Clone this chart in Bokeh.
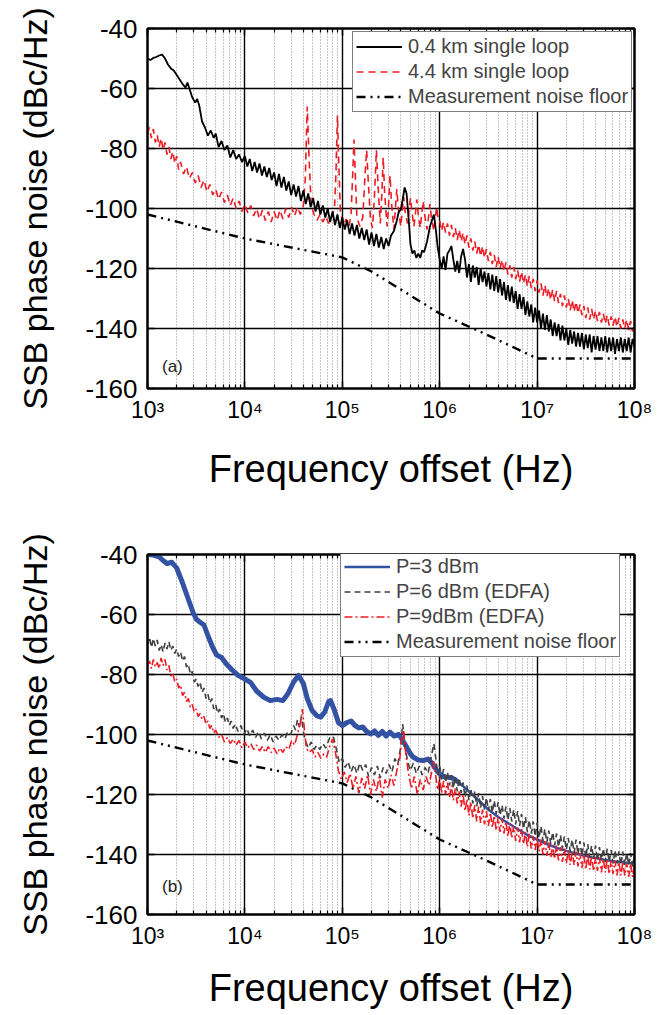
import math
from bokeh.plotting import figure
from bokeh.layouts import column
from bokeh.models import (Range1d, FixedTicker, CustomJSTickFormatter, LogAxis,
                          LinearAxis, Legend, LegendItem, Label)
from bokeh.embed import file_html
from bokeh.resources import INLINE

FONT = "Liberation Sans"

# ---------------- axis ticks ----------------
X_TICKS = [1e3, 1e4, 1e5, 1e6, 1e7, 1e8]
X_MINOR = [k * 10 ** n for n in range(3, 8) for k in range(2, 10)]
Y_TICKS = [-160, -140, -120, -100, -80, -60, -40]

# ---------------- data (log10 frequency, dBc/Hz) ----------------
# shared measurement noise floor
NOISE = [(3.0, -102), (4.0, -110), (5.0, -116.3), (5.3, -121), (6.0, -135),
         (6.48, -142), (7.0, -150), (8.0, -150)]

# panel (a): 0.4 km single loop
A_SHORT = [
    (3.0, -50), (3.03, -50.5), (3.06, -49.8), (3.09, -49.5), (3.12, -49), (3.15, -48.7),
    (3.18, -50), (3.21, -52), (3.24, -53.3), (3.27, -54), (3.3, -55.5), (3.33, -57),
    (3.36, -58.5), (3.39, -59.7), (3.41, -58), (3.43, -60), (3.46, -63), (3.49, -64.7),
    (3.51, -63.5), (3.53, -65.5), (3.56, -71), (3.59, -73), (3.62, -75.7), (3.65, -74),
    (3.68, -76.5), (3.7, -75), (3.73, -79.5), (3.76, -77.5), (3.79, -80.5), (3.82, -79),
    (3.85, -83), (3.88, -80.5), (3.91, -83.5), (3.94, -82), (3.97, -84.5),
    (4.0, -82.5), (4.025, -86), (4.05, -83.5), (4.075, -87.5), (4.1, -84.5), (4.125, -88),
    (4.15, -85), (4.175, -89), (4.2, -86), (4.225, -89.5), (4.25, -86.5), (4.275, -90.5),
    (4.3, -88), (4.325, -92.5), (4.35, -88.5), (4.375, -93), (4.4, -89.5), (4.425, -94),
    (4.45, -91), (4.475, -95.5), (4.5, -92), (4.525, -96), (4.55, -92.5), (4.575, -97.5),
    (4.6, -94), (4.625, -98.5), (4.65, -95), (4.675, -99.5), (4.7, -96.5), (4.725, -101),
    (4.75, -97.5), (4.775, -102), (4.8, -99), (4.825, -103), (4.85, -100), (4.875, -104.5),
    (4.9, -101), (4.925, -105.5), (4.95, -102), (4.975, -106.5), (5.0, -103), (5.025, -107),
    (5.05, -104), (5.075, -108.5), (5.1, -105), (5.125, -109), (5.15, -105.5), (5.175, -110),
    (5.2, -106.5), (5.225, -110.5), (5.25, -107), (5.275, -112), (5.3, -108), (5.325, -112.5),
    (5.35, -108.5), (5.375, -113), (5.4, -109.5), (5.425, -113.5), (5.45, -110), (5.475, -112.5),
    (5.5, -109), (5.53, -107.5), (5.56, -104), (5.58, -101), (5.6, -100.5),
    (5.62, -97), (5.64, -93), (5.66, -95), (5.68, -103), (5.7, -112), (5.72, -115),
    (5.74, -114), (5.76, -116.5), (5.78, -115), (5.8, -116.5), (5.82, -114), (5.84, -114.5),
    (5.87, -111), (5.9, -106), (5.92, -104), (5.94, -102), (5.96, -107), (5.98, -113),
    (6.0, -117), (6.02, -120), (6.04, -116), (6.06, -120.5), (6.08, -115), (6.1, -114),
    (6.12, -112.5), (6.14, -117), (6.16, -121), (6.18, -117.5), (6.2, -121.5), (6.22, -116),
    (6.24, -113.5), (6.26, -117), (6.28, -123), (6.3, -118.5), (6.32, -124.5), (6.34, -119),
    (6.36, -123), (6.38, -119.5), (6.4, -125.5), (6.42, -120), (6.44, -124.5), (6.46, -121),
    (6.48, -126), (6.5, -121.5), (6.52, -127), (6.54, -122), (6.56, -127.5), (6.58, -122.5),
    (6.6, -128), (6.62, -123.5), (6.64, -129), (6.66, -124.5), (6.68, -130.5), (6.7, -125.5),
    (6.72, -131), (6.74, -126), (6.76, -131.5), (6.78, -127.5), (6.8, -133.5), (6.82, -128.5),
    (6.84, -133.5), (6.86, -129.5), (6.88, -135.5), (6.9, -131), (6.92, -136), (6.94, -132),
    (6.96, -138), (6.98, -133), (7.0, -138), (7.02, -134), (7.04, -140), (7.06, -135),
    (7.08, -140.5), (7.1, -135.5), (7.12, -141), (7.14, -137), (7.16, -142.5), (7.18, -138),
    (7.2, -142.5), (7.22, -138.5), (7.24, -144), (7.26, -139), (7.28, -144), (7.3, -140),
    (7.32, -145.5), (7.34, -140.5), (7.36, -145), (7.38, -141), (7.4, -146), (7.42, -141.5),
    (7.44, -146), (7.46, -141.5), (7.48, -147), (7.5, -142), (7.52, -146.5), (7.54, -142),
    (7.56, -148), (7.58, -142.5), (7.6, -147), (7.62, -142.5), (7.64, -147.5), (7.66, -143),
    (7.68, -147.5), (7.7, -142.5), (7.72, -148), (7.74, -143), (7.76, -147.5), (7.78, -143),
    (7.8, -148.5), (7.82, -143.5), (7.84, -147.5), (7.86, -143), (7.88, -148), (7.9, -143.5),
    (7.92, -147.5), (7.94, -143), (7.96, -148), (7.98, -143.5), (8.0, -146)]

# panel (a): 4.4 km single loop
A_LONG = [
    (3.0, -75), (3.02, -73), (3.04, -76.5), (3.06, -73.5), (3.08, -78), (3.1, -75.5),
    (3.12, -79.5), (3.14, -76.5), (3.16, -80.5), (3.18, -78), (3.2, -82), (3.22, -79.5),
    (3.24, -83.5), (3.26, -81), (3.28, -85), (3.3, -82.5), (3.32, -87), (3.34, -84.5),
    (3.37, -88.5), (3.4, -86), (3.43, -90), (3.46, -88), (3.49, -91.5), (3.52, -89),
    (3.55, -93), (3.58, -90.5), (3.61, -94.5), (3.64, -92), (3.67, -95.5), (3.7, -93.5),
    (3.73, -97), (3.76, -94.5), (3.79, -98), (3.82, -95.5), (3.85, -99), (3.88, -96.5),
    (3.91, -100), (3.94, -97.5), (3.97, -101), (4.0, -98.5), (4.03, -101.5), (4.06, -99),
    (4.09, -102.5), (4.12, -100), (4.15, -103.5), (4.18, -100.5), (4.21, -104), (4.24, -101),
    (4.27, -104.5), (4.3, -101), (4.33, -104), (4.36, -100.5), (4.39, -103.5), (4.42, -100),
    (4.45, -103), (4.48, -99.5), (4.51, -102.5), (4.54, -99.5), (4.57, -102), (4.6, -99),
    (4.62, -90), (4.64, -66), (4.66, -84), (4.68, -99), (4.71, -102), (4.74, -104),
    (4.77, -102), (4.8, -104.5), (4.83, -102.5), (4.86, -105), (4.89, -103), (4.92, -100),
    (4.935, -88), (4.95, -69), (4.965, -86), (4.98, -101), (5.01, -105.5), (5.04, -103.5),
    (5.07, -106), (5.09, -102), (5.105, -90), (5.12, -77), (5.135, -90), (5.15, -103),
    (5.18, -106), (5.21, -103), (5.235, -88), (5.25, -80.5), (5.265, -90), (5.29, -104),
    (5.31, -106.5), (5.33, -96), (5.35, -80.5), (5.37, -94), (5.39, -105), (5.405, -96),
    (5.42, -83), (5.435, -95), (5.46, -106), (5.475, -99), (5.49, -89), (5.505, -98),
    (5.53, -107), (5.545, -100), (5.56, -93.5), (5.575, -100), (5.6, -106), (5.615, -101),
    (5.63, -96), (5.645, -101), (5.67, -105), (5.685, -101), (5.7, -96.5), (5.715, -101),
    (5.735, -106), (5.75, -102), (5.765, -97), (5.78, -102), (5.8, -106.5), (5.815, -102),
    (5.83, -97.5), (5.845, -102), (5.87, -107), (5.885, -103), (5.9, -98.5), (5.915, -103),
    (5.94, -107.5), (5.955, -103), (5.97, -99.5), (5.985, -104),
    (6.0, -104), (6.02, -107.5), (6.04, -104.5), (6.06, -108), (6.08, -105), (6.1, -109),
    (6.12, -105.5), (6.14, -109.5), (6.16, -106.5), (6.18, -110.5), (6.2, -107), (6.22, -111),
    (6.24, -108), (6.26, -112), (6.28, -109), (6.3, -113), (6.32, -110), (6.34, -114),
    (6.36, -111), (6.38, -115), (6.4, -112), (6.42, -116), (6.44, -112.5), (6.46, -116.5),
    (6.48, -113.5), (6.5, -117.5), (6.52, -114.5), (6.54, -118.5), (6.56, -115.5), (6.58, -119.5),
    (6.6, -116), (6.62, -120), (6.64, -117), (6.66, -121), (6.68, -118), (6.7, -122),
    (6.72, -119), (6.74, -123), (6.76, -119.5), (6.78, -123.5), (6.8, -120.5), (6.82, -124.5),
    (6.84, -121), (6.86, -125), (6.88, -122), (6.9, -126), (6.92, -122.5), (6.94, -126.5),
    (6.96, -123.5), (6.98, -127.5), (7.0, -124), (7.02, -128), (7.04, -125), (7.06, -129),
    (7.08, -125.5), (7.1, -129.5), (7.12, -126.5), (7.14, -130.5), (7.16, -127), (7.18, -131),
    (7.2, -127.5), (7.22, -131.5), (7.24, -128.5), (7.26, -132.5), (7.28, -129), (7.3, -133),
    (7.32, -130), (7.34, -134), (7.36, -130.5), (7.38, -134.5), (7.4, -131), (7.42, -135),
    (7.44, -132), (7.46, -135.5), (7.48, -132.5), (7.5, -136.5), (7.52, -133), (7.54, -137),
    (7.56, -133.5), (7.58, -137), (7.6, -134), (7.62, -137.5), (7.64, -134.5), (7.66, -138),
    (7.68, -135), (7.7, -138.5), (7.72, -135.5), (7.74, -139), (7.76, -136), (7.78, -139),
    (7.8, -136), (7.82, -139.5), (7.84, -136.5), (7.86, -140), (7.88, -137), (7.9, -140),
    (7.92, -137), (7.94, -140.5), (7.96, -137.5), (7.98, -141), (8.0, -138)]

# panel (b): P = 3 dBm
B_P3 = [
    (3.0, -40), (3.06, -40.2), (3.12, -40.8), (3.16, -42), (3.2, -43), (3.25, -42.6),
    (3.3, -44.5), (3.36, -49.5), (3.42, -55), (3.47, -59.5), (3.5, -61.5), (3.54, -62.6),
    (3.58, -63.5), (3.62, -67), (3.67, -71), (3.71, -73.5), (3.76, -74.3), (3.81, -76.5),
    (3.87, -78.5), (3.93, -80.3), (4.0, -81.5), (4.06, -82.7), (4.12, -85.5), (4.19, -87.5),
    (4.26, -88.7), (4.33, -88.3), (4.39, -88.7), (4.44, -86.5), (4.5, -82.5), (4.55, -80.3),
    (4.6, -83), (4.64, -88), (4.69, -92), (4.74, -93.8), (4.78, -94.2), (4.82, -92.5),
    (4.86, -89), (4.88, -88.7), (4.92, -92), (4.96, -96), (5.0, -97), (5.05, -96),
    (5.09, -95.5), (5.13, -97), (5.17, -97.8), (5.21, -97.5), (5.25, -99), (5.29, -99.8),
    (5.33, -98.8), (5.37, -100.3), (5.41, -99), (5.45, -100.5), (5.49, -99.2), (5.53, -100.5),
    (5.58, -100), (5.62, -102), (5.66, -104.2), (5.7, -106.5), (5.73, -107.6), (5.78, -108.5),
    (5.83, -108.7), (5.88, -108.2), (5.92, -109.5), (5.97, -112), (6.02, -113.8), (6.07, -114.2),
    (6.13, -114.5), (6.2, -116), (6.3, -119), (6.4, -122), (6.5, -125), (6.6, -127.5),
    (6.7, -129.5), (6.8, -131.5), (6.9, -133.5), (7.0, -135), (7.1, -136.5), (7.2, -137.8),
    (7.3, -138.8), (7.4, -139.7), (7.5, -140.5), (7.6, -141.2), (7.7, -141.8), (7.8, -142.3),
    (7.9, -142.7), (8.0, -143)]
B_P3_SPLIT = 68   # index of 10^6.2 Hz: beyond it the trace sits under the EDFA traces

# panel (b): P = 6 dBm (EDFA)
B_P6 = [
    (3.0, -70), (3.02, -67.5), (3.04, -71), (3.06, -68), (3.08, -70.5), (3.1, -68.5),
    (3.12, -72), (3.14, -70), (3.16, -72.5), (3.18, -69.5), (3.2, -71.5), (3.22, -69),
    (3.24, -72), (3.26, -70.5), (3.28, -73), (3.3, -71.5), (3.32, -74), (3.34, -72.5),
    (3.36, -75.5), (3.38, -74), (3.4, -77.5), (3.42, -76.5), (3.44, -80), (3.46, -79),
    (3.48, -82.5), (3.5, -81.5), (3.52, -84), (3.54, -82.5), (3.56, -86), (3.58, -84.5),
    (3.6, -88), (3.62, -86.5), (3.64, -89.5), (3.66, -88), (3.68, -91.5), (3.7, -90),
    (3.72, -93), (3.74, -91.5), (3.76, -94.5), (3.78, -93), (3.8, -96), (3.82, -94.5),
    (3.84, -97), (3.86, -95.5), (3.88, -98), (3.9, -96.5), (3.93, -99), (3.96, -97),
    (3.99, -100), (4.02, -98), (4.05, -100.5), (4.08, -98.5), (4.11, -101), (4.14, -99),
    (4.17, -101.5), (4.2, -99.5), (4.23, -102), (4.26, -100), (4.29, -102.5), (4.32, -100.5),
    (4.35, -102), (4.38, -100), (4.41, -101.5), (4.44, -99), (4.47, -100), (4.5, -97),
    (4.52, -98.5), (4.54, -95), (4.56, -97.5), (4.58, -94), (4.6, -99), (4.62, -102),
    (4.65, -104.5), (4.68, -102.5), (4.71, -105), (4.74, -103.5), (4.77, -105), (4.8, -103),
    (4.83, -104.5), (4.86, -102), (4.88, -100.5), (4.91, -101), (4.94, -105), (4.97, -109.5),
    (5.0, -108), (5.03, -111), (5.06, -109), (5.09, -112.5), (5.12, -110), (5.15, -113),
    (5.18, -109.5), (5.21, -112), (5.24, -110), (5.27, -114), (5.3, -111), (5.33, -113.5),
    (5.36, -110.5), (5.39, -114.5), (5.42, -111), (5.45, -113), (5.48, -110), (5.51, -112.5),
    (5.54, -108), (5.57, -110), (5.6, -104), (5.62, -96.5), (5.64, -103), (5.67, -109),
    (5.7, -112), (5.73, -109.5), (5.76, -113), (5.79, -110.5), (5.82, -113.5), (5.85, -111),
    (5.88, -113), (5.91, -108), (5.94, -103), (5.96, -108), (5.98, -113.5),
    (6.0, -110.5), (6.02, -115), (6.04, -111.5), (6.06, -116), (6.08, -112.5), (6.1, -117),
    (6.12, -113.5), (6.14, -118), (6.16, -114), (6.18, -119), (6.2, -114.5), (6.22, -119.5),
    (6.24, -116), (6.26, -121), (6.28, -117), (6.3, -122), (6.32, -118), (6.34, -123),
    (6.36, -119), (6.38, -124), (6.4, -119.5), (6.42, -124.5), (6.44, -120.5), (6.46, -125),
    (6.48, -121), (6.5, -125.5), (6.52, -121.5), (6.54, -126), (6.56, -122), (6.58, -126.5),
    (6.6, -122.5), (6.62, -127), (6.64, -123.5), (6.66, -128), (6.68, -124), (6.7, -128.5),
    (6.72, -124.5), (6.74, -129), (6.76, -125), (6.78, -130), (6.8, -125.5), (6.82, -130.5),
    (6.84, -126.5), (6.86, -131.5), (6.88, -127.5), (6.9, -132.5), (6.92, -128.5), (6.94, -133),
    (6.96, -129), (6.98, -134), (7.0, -129.5), (7.02, -134.5), (7.04, -130.5), (7.06, -135.5),
    (7.08, -131.5), (7.1, -136), (7.12, -132), (7.14, -136.5), (7.16, -132.5), (7.18, -137),
    (7.2, -133), (7.22, -137.5), (7.24, -133.5), (7.26, -138), (7.28, -134), (7.3, -138.5),
    (7.32, -134.5), (7.34, -139), (7.36, -135), (7.38, -139.5), (7.4, -135), (7.42, -140),
    (7.44, -135.5), (7.46, -140.5), (7.48, -136), (7.5, -141), (7.52, -136.5), (7.54, -141),
    (7.56, -137), (7.58, -141.5), (7.6, -137), (7.62, -142), (7.64, -137.5), (7.66, -142),
    (7.68, -138), (7.7, -142.5), (7.72, -138), (7.74, -142.5), (7.76, -138.5), (7.78, -143),
    (7.8, -138.5), (7.82, -143), (7.84, -139), (7.86, -143.5), (7.88, -139), (7.9, -143.5),
    (7.92, -139.5), (7.94, -143.5), (7.96, -139.5), (7.98, -144), (8.0, -140)]

# panel (b): P = 9 dBm (EDFA)
B_P9 = [
    (3.0, -77), (3.02, -75.5), (3.04, -78), (3.06, -75), (3.08, -77.5), (3.1, -76),
    (3.12, -78), (3.14, -74.5), (3.16, -77), (3.18, -75), (3.2, -78.5), (3.22, -77),
    (3.24, -80.5), (3.26, -79.5), (3.28, -82.5), (3.3, -81.5), (3.32, -84.5), (3.34, -83.5),
    (3.36, -87), (3.38, -86), (3.4, -89), (3.42, -88), (3.44, -91), (3.46, -90),
    (3.48, -92.5), (3.5, -91.5), (3.52, -94), (3.54, -93), (3.56, -95), (3.58, -94),
    (3.6, -96.5), (3.62, -95.5), (3.64, -98), (3.66, -97), (3.68, -99.5), (3.7, -98.5),
    (3.73, -101), (3.76, -100), (3.79, -102.5), (3.82, -101), (3.85, -103), (3.88, -101.5),
    (3.91, -103.5), (3.94, -102), (3.97, -104.5), (4.0, -102.5), (4.03, -104.5), (4.06, -103),
    (4.09, -105), (4.12, -103.5), (4.15, -105.5), (4.18, -104), (4.21, -106), (4.24, -104),
    (4.27, -106), (4.3, -104.5), (4.33, -106.5), (4.36, -104.5), (4.39, -106), (4.42, -104),
    (4.45, -105), (4.48, -102), (4.51, -103.5), (4.54, -100), (4.57, -96), (4.59, -91.5),
    (4.61, -98), (4.63, -104.5), (4.66, -106), (4.69, -105), (4.72, -107.5), (4.75, -106),
    (4.78, -108), (4.81, -106.5), (4.84, -107.5), (4.87, -104), (4.9, -101.5), (4.93, -106),
    (4.96, -112), (4.99, -115), (5.02, -112.5), (5.05, -116), (5.08, -113), (5.11, -118),
    (5.14, -114), (5.17, -119.5), (5.2, -114.5), (5.23, -118), (5.26, -113.5), (5.29, -120),
    (5.32, -115), (5.35, -119), (5.38, -114), (5.41, -121), (5.44, -115), (5.47, -118),
    (5.5, -113.5), (5.53, -117), (5.56, -112), (5.59, -108), (5.61, -102), (5.63, -98.5),
    (5.65, -106), (5.68, -113), (5.71, -118), (5.74, -114), (5.77, -120), (5.8, -115),
    (5.83, -118.5), (5.86, -114), (5.89, -117), (5.92, -112), (5.94, -109), (5.96, -114),
    (5.98, -118.5),
    (6.0, -114.5), (6.02, -119.5), (6.04, -115.5), (6.06, -120), (6.08, -116), (6.1, -121),
    (6.12, -117), (6.14, -122), (6.16, -118), (6.18, -123), (6.2, -119), (6.22, -124),
    (6.24, -120), (6.26, -125.5), (6.28, -121.5), (6.3, -127), (6.32, -122.5), (6.34, -128),
    (6.36, -123.5), (6.38, -129), (6.4, -124), (6.42, -129.5), (6.44, -125), (6.46, -130),
    (6.48, -125.5), (6.5, -130.5), (6.52, -126), (6.54, -131), (6.56, -127), (6.58, -132),
    (6.6, -127.5), (6.62, -132.5), (6.64, -128), (6.66, -133), (6.68, -129), (6.7, -134),
    (6.72, -129.5), (6.74, -134.5), (6.76, -130.5), (6.78, -135.5), (6.8, -131), (6.82, -136),
    (6.84, -131.5), (6.86, -136.5), (6.88, -132.5), (6.9, -137.5), (6.92, -133), (6.94, -138),
    (6.96, -134), (6.98, -138.5), (7.0, -134.5), (7.02, -139), (7.04, -135), (7.06, -140),
    (7.08, -135.5), (7.1, -140.5), (7.12, -136), (7.14, -141), (7.16, -137), (7.18, -141.5),
    (7.2, -137), (7.22, -142), (7.24, -137.5), (7.26, -142.5), (7.28, -138), (7.3, -143),
    (7.32, -138.5), (7.34, -143.5), (7.36, -139), (7.38, -143.5), (7.4, -139), (7.42, -144),
    (7.44, -139.5), (7.46, -144.5), (7.48, -140), (7.5, -145), (7.52, -140), (7.54, -145),
    (7.56, -140.5), (7.58, -145.5), (7.6, -141), (7.62, -145.5), (7.64, -141), (7.66, -146),
    (7.68, -141.5), (7.7, -146), (7.72, -141.5), (7.74, -146.5), (7.76, -142), (7.78, -146.5),
    (7.8, -142), (7.82, -147), (7.84, -142.5), (7.86, -147), (7.88, -142.5), (7.9, -147),
    (7.92, -143), (7.94, -147.5), (7.96, -143), (7.98, -147.5), (8.0, -143.5)]


def hz(series):
    return [10 ** e for e, _ in series]


def db(series):
    return [v for _, v in series]


SUP = CustomJSTickFormatter(code="""
const s = {3: '\u00b3', 4: '\u2074', 5: '\u2075', 6: '\u2076', 7: '\u2077', 8: '\u2078'};
return '10' + s[Math.round(Math.log10(tick))];
""")
PLAIN = CustomJSTickFormatter(code="return tick.toFixed(0);")


def make_panel(h, top, bottom, xlabel_standoff):
    p = figure(width=670, height=h, x_axis_type="log",
               x_range=Range1d(1e3, 1e8), y_range=Range1d(-160, -40),
               output_backend="svg", toolbar_location=None,
               min_border_left=147, min_border_right=36,
               min_border_top=top, min_border_bottom=bottom)
    p.outline_line_color = "black"
    p.outline_line_width = 2
    p.background_fill_color = "white"
    p.border_fill_color = "white"

    xt = FixedTicker(ticks=X_TICKS, minor_ticks=X_MINOR)
    yt = FixedTicker(ticks=Y_TICKS, minor_ticks=[])
    xa = p.xaxis[0]
    ya = p.yaxis[0]
    xa.ticker = xt
    ya.ticker = yt
    xa.formatter = SUP
    ya.formatter = PLAIN
    for ax in (xa, ya):
        ax.axis_line_width = 2
        ax.major_tick_in = 7
        ax.major_tick_out = 0
        ax.minor_tick_in = 4
        ax.minor_tick_out = 0
        ax.major_tick_line_width = 1.5
        ax.minor_tick_line_width = 1.2
        ax.major_label_text_font = FONT
        ax.axis_label_text_font = FONT
        ax.axis_label_text_font_style = "normal"
        ax.major_label_text_color = "black"
        ax.axis_label_text_color = "black"
    xa.major_label_text_font_size = "23px"
    xa.major_label_standoff = 8
    xa.axis_label = "Frequency offset (Hz)"
    xa.axis_label_text_font_size = "38px"
    xa.axis_label_standoff = xlabel_standoff
    ya.major_label_text_font_size = "26px"
    ya.major_label_standoff = 10
    ya.axis_label = "SSB phase noise (dBc/Hz)"
    ya.axis_label_text_font_size = "34px"
    ya.axis_label_standoff = 28

    blank = CustomJSTickFormatter(code="return ''")
    ta = LogAxis(ticker=xt, formatter=blank, major_label_text_font_size="0px",
                 axis_line_width=2, major_tick_in=7, major_tick_out=0,
                 minor_tick_in=4, minor_tick_out=0, major_tick_line_width=1.5,
                 minor_tick_line_width=1.2)
    p.add_layout(ta, "above")
    ra = LinearAxis(ticker=yt, formatter=blank, major_label_text_font_size="0px",
                    axis_line_width=2, major_tick_in=7, major_tick_out=0,
                    minor_tick_in=0, minor_tick_out=0, major_tick_line_width=1.5)
    p.add_layout(ra, "right")

    p.xgrid[0].ticker = xt
    p.ygrid[0].ticker = yt
    p.xgrid.grid_line_color = "black"
    p.xgrid.grid_line_width = 1.4
    p.xgrid.minor_grid_line_color = "#8c8c8c"
    p.xgrid.minor_grid_line_width = 1
    p.xgrid.minor_grid_line_dash = "1 2"
    p.ygrid.grid_line_color = "black"
    p.ygrid.grid_line_width = 1.4
    return p


def style_legend(items, loc):
    lg = Legend(items=items, location=loc, margin=0, padding=3, spacing=2,
                glyph_width=46, glyph_height=21, label_height=21, label_standoff=6,
                label_text_font=FONT, label_text_font_size="20px",
                border_line_color="black", border_line_width=1,
                background_fill_color="white", background_fill_alpha=1)
    return lg


FLOOR_DASH = "9 5 2 5 2 5"

# ---------------- panel (a) ----------------
p1 = make_panel(510, 28, 122, 22)
r_nf1 = p1.line(hz(NOISE), db(NOISE), line_color="black", line_width=2.4,
                line_dash=FLOOR_DASH)
r_long = p1.line(hz(A_LONG), db(A_LONG), line_color="#ec1c24", line_width=1.6,
                 line_dash="7 5")
r_short = p1.line(hz(A_SHORT), db(A_SHORT), line_color="black", line_width=1.8)
leg1 = style_legend([
    LegendItem(label="0.4 km single loop", renderers=[r_short]),
    LegendItem(label="4.4 km single loop", renderers=[r_long]),
    LegendItem(label="Measurement noise floor", renderers=[r_nf1]),
], (205, 276))
p1.add_layout(leg1)
p1.add_layout(Label(x=1.8e3, y=-152.7, text="(a)", text_font=FONT,
                    text_font_size="17px", text_align="center",
                    text_baseline="middle", text_color="#222222"))

# ---------------- panel (b) ----------------
p2 = make_panel(505, 44, 101, 15)
r_nf2 = p2.line(hz(NOISE), db(NOISE), line_color="black", line_width=2.4,
                line_dash=FLOOR_DASH)
p3_head = B_P3[:B_P3_SPLIT]
p3_tail = B_P3[B_P3_SPLIT - 1:]
p2.line(hz(p3_head), db(p3_head), line_color="#3352a3", line_width=5, line_join="round")
p2.line(hz(p3_tail), db(p3_tail), line_color="#3352a3", line_width=2.5, line_join="round")
r_p6 = p2.line(hz(B_P6), db(B_P6), line_color="#404040", line_width=1.6,
               line_dash="6 4")
r_p9 = p2.line(hz(B_P9), db(B_P9), line_color="#ee1c24", line_width=1.6,
               line_dash="8 3 2 3")
# legend-only sample of the blue trace (thin line, no visible points)
r_p3_leg = p2.line([1e3, 1e3], [float("nan"), float("nan")], line_color="#3352a3",
                   line_width=2.5)
leg2 = style_legend([
    LegendItem(label="P=3 dBm", renderers=[r_p3_leg]),
    LegendItem(label="P=6 dBm (EDFA)", renderers=[r_p6]),
    LegendItem(label="P=9dBm (EDFA)", renderers=[r_p9]),
    LegendItem(label="Measurement noise floor", renderers=[r_nf2]),
], (193, 257))
p2.add_layout(leg2)
p2.add_layout(Label(x=1.8e3, y=-150.7, text="(b)", text_font=FONT,
                    text_font_size="17px", text_align="center",
                    text_baseline="middle", text_color="#222222"))

layout = column(p1, p2, spacing=0)
open("out.html", "w").write(file_html(layout, INLINE))
